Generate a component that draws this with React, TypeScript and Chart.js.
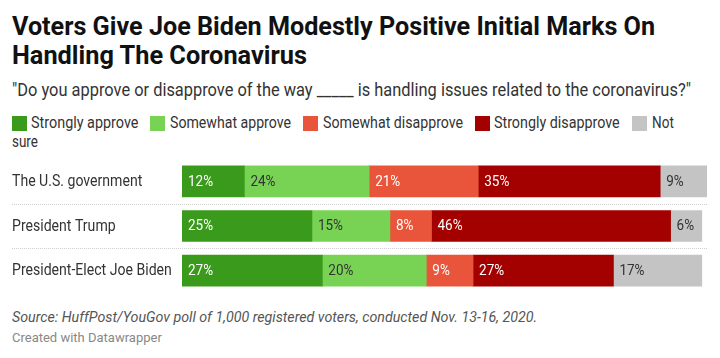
import React, { useEffect, useLayoutEffect, useRef, useState } from "react";
import { Chart, registerables } from "chart.js";
Chart.register(...registerables);

const categories = ["The U.S. government", "President Trump", "President-Elect Joe Biden"];
const seriesNames = ["Strongly approve", "Somewhat approve", "Somewhat disapprove", "Strongly disapprove", "Not sure"];
const stronglyApprove = [12, 25, 27];
const somewhatApprove = [24, 15, 20];
const somewhatDisapprove = [21, 8, 9];
const stronglyDisapprove = [35, 46, 27];
const notSure = [9, 6, 17];
const seriesValues = [stronglyApprove, somewhatApprove, somewhatDisapprove, stronglyDisapprove, notSure];
const seriesColors = ["#3a9a1b", "#78d355", "#e8553a", "#a30000", "#c4c4c4"];
const valueLabelColors = ["#ffffff", "#333333", "#ffffff", "#ffffff", "#333333"];

const titleLines = ["Voters Give Joe Biden Modestly Positive Initial Marks On", "Handling The Coronavirus"];
const subtitle = "\"Do you approve or disapprove of the way _____ is handling issues related to the coronavirus?\"";
const sourceText = "Source: HuffPost/YouGov poll of 1,000 registered voters, conducted Nov. 13-16, 2020.";
const creditText = "Created with Datawrapper";

const totals = categories.map((_, i) => seriesValues.reduce((s, arr) => s + arr[i], 0));
const xMax = Math.max(...totals);

function Fit(props: { left: number; top: number; width: number; style?: React.CSSProperties; children: React.ReactNode }) {
  const ref = useRef<HTMLSpanElement>(null);
  const [k, setK] = useState(1);
  useLayoutEffect(() => {
    const el = ref.current;
    if (!el) return;
    const w = el.offsetWidth;
    if (w > 0) setK(props.width / w);
  }, [props.width]);
  return (
    <span
      ref={ref}
      style={{
        position: "absolute",
        left: props.left,
        top: props.top,
        whiteSpace: "nowrap",
        transform: `scaleX(${k})`,
        transformOrigin: "0 0",
        ...props.style,
      }}
    >
      {props.children}
    </span>
  );
}

const dwPlugin = {
  id: "dwLabels",
  beforeDatasetsDraw(chart: any) {
    const { ctx, chartArea, scales } = chart;
    const y = scales.y;
    ctx.save();
    ctx.strokeStyle = "#cfcfcf";
    ctx.lineWidth = 1;
    ctx.setLineDash([1, 1]);
    for (let i = 0; i < categories.length - 1; i++) {
      const yy = Math.round((y.getPixelForValue(i) + y.getPixelForValue(i + 1)) / 2) + 0.5;
      ctx.beginPath();
      ctx.moveTo(12, yy);
      ctx.lineTo(chartArea.right, yy);
      ctx.stroke();
    }
    ctx.restore();
  },
  afterDatasetsDraw(chart: any) {
    const { ctx, scales } = chart;
    const y = scales.y;
    ctx.save();
    ctx.textBaseline = "middle";
    ctx.textAlign = "left";
    ctx.font = "16px Roboto";
    ctx.fillStyle = "#333333";
    categories.forEach((c, i) => {
      const yy = y.getPixelForValue(i);
      ctx.save();
      ctx.translate(12, yy + 0.5);
      ctx.scale(0.88, 1);
      ctx.fillText(c, 0, 0);
      ctx.restore();
    });
    ctx.font = "15px Roboto";
    chart.data.datasets.forEach((_ds: any, di: number) => {
      const meta = chart.getDatasetMeta(di);
      meta.data.forEach((el: any, i: number) => {
        const p = el.getProps(["x", "y", "base"], true);
        const left = Math.min(p.x, p.base);
        ctx.fillStyle = valueLabelColors[di];
        ctx.save();
        ctx.translate(left + 6, p.y + 0.5);
        ctx.scale(0.9, 1);
        ctx.fillText(seriesValues[di][i] + "%", 0, 0);
        ctx.restore();
      });
    });
    ctx.restore();
  },
};

function BarChart() {
  const canvasRef = useRef<HTMLCanvasElement>(null);
  useEffect(() => {
    if (!canvasRef.current) return;
    const chart = new Chart(canvasRef.current, {
      type: "bar",
      data: {
        labels: categories,
        datasets: seriesNames.map((name, di) => ({
          label: name,
          data: seriesValues[di],
          backgroundColor: seriesColors[di],
          borderWidth: 0,
          barThickness: 31,
          categoryPercentage: 1,
        })),
      },
      options: {
        indexAxis: "y",
        responsive: false,
        animation: false,
        devicePixelRatio: 1,
        layout: { padding: { left: 182, right: 13, top: 0, bottom: 0 } },
        scales: {
          x: { stacked: true, min: 0, max: xMax, display: false },
          y: { stacked: true, display: false },
        },
        plugins: { legend: { display: false }, tooltip: { enabled: false } },
      },
      plugins: [dwPlugin],
    } as any);
    return () => chart.destroy();
  }, []);
  return (
    <canvas
      ref={canvasRef}
      width={720}
      height={134}
      style={{ position: "absolute", left: 0, top: 159, width: 720, height: 134 }}
    />
  );
}

const legendSquares = [12, 150, 303, 475, 632];
const legendTexts = [
  { left: 31, width: 107 },
  { left: 170, width: 121 },
  { left: 323, width: 140 },
  { left: 494, width: 126 },
];

export default function App() {
  const legendStyle: React.CSSProperties = { fontSize: 16, lineHeight: "20px", color: "#333" };
  return (
    <div
      style={{
        position: "absolute",
        left: 0,
        top: 0,
        width: 720,
        height: 358,
        background: "#fff",
        fontFamily: "Roboto, sans-serif",
        overflow: "hidden",
      }}
    >
      <Fit left={12} top={10.5} width={643} style={{ fontSize: 26, fontWeight: 700, lineHeight: "30px", color: "#111" }}>
        {titleLines[0]}
      </Fit>
      <Fit left={12} top={39.5} width={295} style={{ fontSize: 26, fontWeight: 700, lineHeight: "30px", color: "#111" }}>
        {titleLines[1]}
      </Fit>
      <Fit left={12} top={79.5} width={679} style={{ fontSize: 18, lineHeight: "20px", color: "#333" }}>
        {subtitle}
      </Fit>
      {legendSquares.map((x, i) => (
        <div
          key={i}
          style={{ position: "absolute", left: x, top: 116, width: 15, height: 15, background: seriesColors[i] }}
        />
      ))}
      {legendTexts.map((t, i) => (
        <Fit key={i} left={t.left} top={112.8} width={t.width} style={legendStyle}>
          {seriesNames[i]}
        </Fit>
      ))}
      <Fit left={652} top={112.8} width={22} style={legendStyle}>
        {seriesNames[4].split(" ")[0]}
      </Fit>
      <Fit left={12} top={131.5} width={26} style={legendStyle}>
        {seriesNames[4].split(" ")[1]}
      </Fit>
      <BarChart />
      <Fit left={12} top={308} width={525} style={{ fontSize: 14, fontStyle: "italic", lineHeight: "18px", color: "#555" }}>
        {sourceText}
      </Fit>
      <Fit left={12} top={330} width={150} style={{ fontSize: 13, lineHeight: "16px", color: "#888" }}>
        {creditText}
      </Fit>
    </div>
  );
}
